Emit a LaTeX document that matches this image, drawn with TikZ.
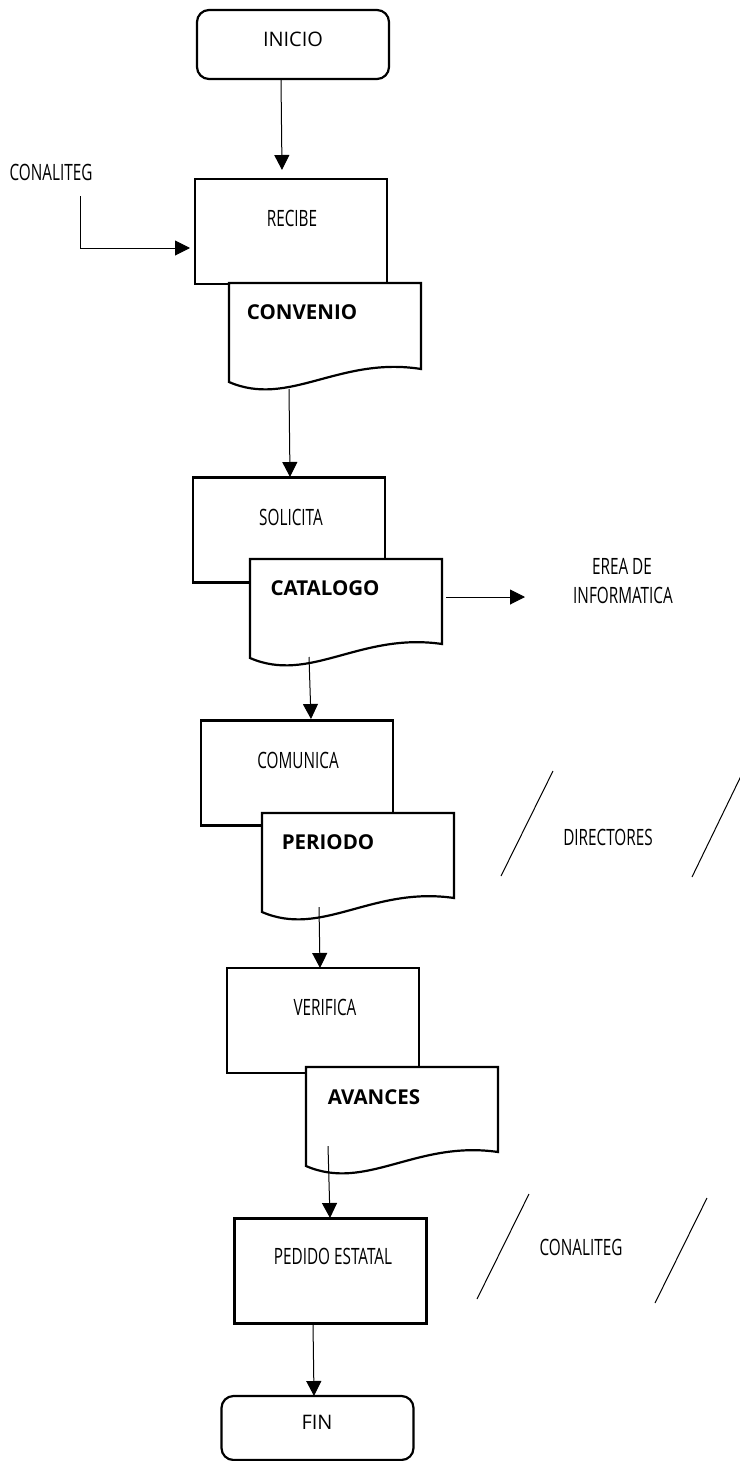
\documentclass[tikz,border=0pt]{standalone}
\usepackage{fontspec}
\setmainfont{Open Sans}
\newfontfamily\condfont[FakeStretch=0.68]{Open Sans}
\usetikzlibrary{arrows.meta}
\begin{document}
\begin{tikzpicture}[x=1pt,y=-1pt,
  box/.style={draw, line width=2.2pt, minimum width=192pt, minimum height=105pt, inner sep=0pt},
  term/.style={draw, line width=2.2pt, rounded corners=12pt, minimum width=192pt, minimum height=69pt, inner sep=0pt},
  lbl/.style={font=\condfont\fontsize{22.5}{26}\selectfont, inner sep=0pt},
  blbl/.style={font=\bfseries\fontsize{20.5}{24}\selectfont, inner sep=0pt},
  tlbl/.style={font=\fontsize{20}{24}\selectfont, inner sep=0pt},
  docline/.style={draw, line width=2.2pt, line join=miter, fill=white},
  conn/.style={line width=1pt, -{Triangle[length=15pt,width=15pt]}},
  slash/.style={line width=1pt}]
\useasboundingbox (0,0) rectangle (739,1461);

% terminals
\node[term] (inicio) at (293,44.5) {};
\node[tlbl] (inicioT) at (293,39) {INICIO};
\node[term] (fin) at (317.5,1428) [minimum height=64pt] {};
\node[tlbl] (finT) at (317,1422) {FIN};

% RECIBE + CONVENIO
\node[box] (recibe) at (291,231.5) {};
\node[lbl] (recibeT) at (292,218) {RECIBE};
\path[docline] (229,283) -- (421,283) -- (421,369) .. controls (339,356) and (289,408) .. (229,382) -- cycle;
\node[blbl] (convenio) at (302,312) {CONVENIO};

% SOLICITA + CATALOGO
\node[box] (solicita) at (289,530) {};
\node[lbl] (solicitaT) at (291,517) {SOLICITA};
\path[docline] (250,559) -- (442,559) -- (442,644) .. controls (360,632) and (310,684) .. (250,658) -- cycle;
\node[blbl] (catalogo) at (325,588) {CATALOGO};

% COMUNICA + PERIODO
\node[box] (comunica) at (297,773) {};
\node[lbl] (comunicaT) at (298,760) {COMUNICA};
\path[docline] (262,813) -- (454,813) -- (454,898) .. controls (372,886) and (322,938) .. (262,912) -- cycle;
\node[blbl] (periodo) at (328,842) {PERIODO};

% VERIFICA + AVANCES
\node[box] (verifica) at (323,1020.5) {};
\node[lbl] (verificaT) at (325,1007) {VERIFICA};
\path[docline] (306,1067) -- (498,1067) -- (498,1152) .. controls (416,1140) and (366,1192) .. (306,1166) -- cycle;
\node[blbl] (avances) at (374,1097) {AVANCES};

% PEDIDO ESTATAL
\node[box] (pedido) at (330.5,1271) {};
\node[lbl] (pedidoT) at (333,1256) {PEDIDO ESTATAL};

% side labels
\node[lbl] (conaliteg1) at (51,172) {CONALITEG};
\node[lbl] (erea) at (622,566) {EREA DE};
\node[lbl] (informatica) at (623,595) {INFORMATICA};
\node[lbl] (directores) at (608,837) {DIRECTORES};
\node[lbl] (conaliteg2) at (581,1247) {CONALITEG};

% connector end points
\coordinate (s1) at (281,80);   \coordinate (e1) at (282,170);
\coordinate (s2) at (80,196);   \coordinate (k2) at (80,248);  \coordinate (e2) at (190,248);
\coordinate (s3) at (289,389);  \coordinate (e3) at (290,477);
\coordinate (s4) at (309,657);  \coordinate (e4) at (311,719);
\coordinate (s5) at (446,597);  \coordinate (e5) at (525,597);
\coordinate (s6) at (319,907);  \coordinate (e6) at (320,968);
\coordinate (s7) at (328,1146); \coordinate (e7) at (330,1218);
\coordinate (s8) at (313,1324); \coordinate (e8) at (314,1396);

\draw[conn] (s1) -- (e1);
\draw[conn] (s2) -- (k2) -- (e2);
\draw[conn] (s3) -- (e3);
\draw[conn] (s4) -- (e4);
\draw[conn] (s5) -- (e5);
\draw[conn] (s6) -- (e6);
\draw[conn] (s7) -- (e7);
\draw[conn] (s8) -- (e8);

% slashes
\coordinate (d1a) at (553,771); \coordinate (d1b) at (501,876);
\coordinate (d2a) at (741,776); \coordinate (d2b) at (692,877);
\coordinate (c1a) at (529,1194); \coordinate (c1b) at (477,1299);
\coordinate (c2a) at (707,1198); \coordinate (c2b) at (655,1303);
\draw[slash] (d1a) -- (d1b);
\draw[slash] (d2a) -- (d2b);
\draw[slash] (c1a) -- (c1b);
\draw[slash] (c2a) -- (c2b);
\end{tikzpicture}
\end{document}
